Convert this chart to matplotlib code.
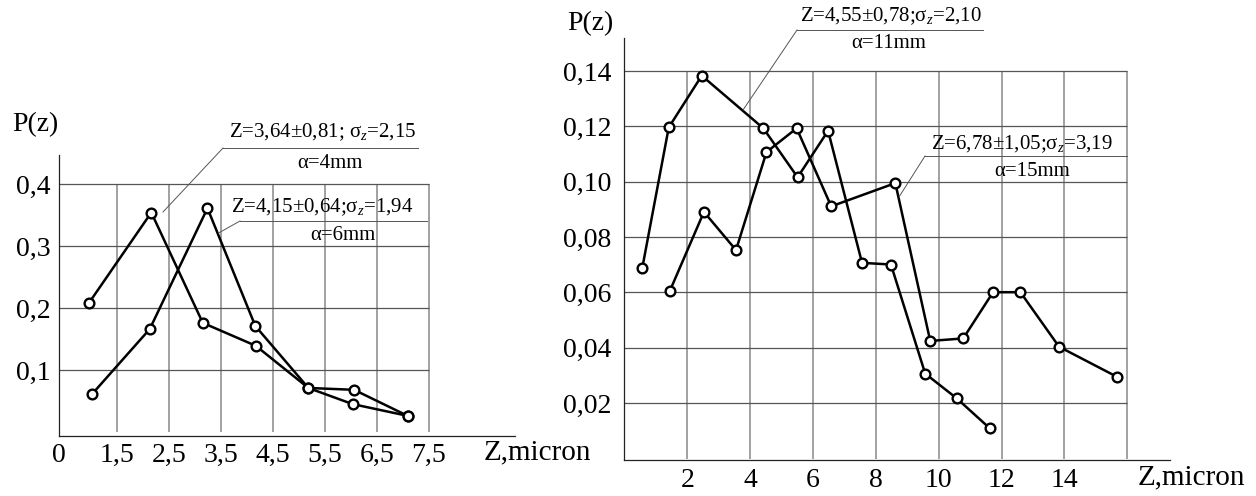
import matplotlib.pyplot as plt
from matplotlib.lines import Line2D

plt.rcParams['font.family'] = ['Liberation Serif', 'DejaVu Serif']
plt.rcParams['mathtext.fontset'] = 'custom'
plt.rcParams['mathtext.rm'] = 'Liberation Serif'
plt.rcParams['mathtext.it'] = 'Liberation Serif:italic'

# left chart: a = 4 mm and a = 6 mm
z_4mm = [0.96, 2.16, 3.15, 4.17, 5.18, 6.03, 7.09]
p_4mm = [0.208, 0.354, 0.176, 0.139, 0.071, 0.045, 0.026]
z_6mm = [1.02, 2.13, 3.24, 4.16, 5.18, 6.06, 7.09]
p_6mm = [0.061, 0.166, 0.361, 0.171, 0.071, 0.068, 0.026]
left_xticks = [1.5, 2.5, 3.5, 4.5, 5.5, 6.5, 7.5]
left_xlabels = ['1,5', '2,5', '3,5', '4,5', '5,5', '6,5', '7,5']
left_yticks = [0.1, 0.2, 0.3, 0.4]
left_ylabels = ['0,1', '0,2', '0,3', '0,4']

# right chart: a = 11 mm and a = 15 mm
z_11mm = [0.57, 1.41, 2.46, 4.42, 5.51, 6.48, 7.56, 8.48, 9.57, 10.57, 11.62]
p_11mm = [0.069, 0.1196, 0.1383, 0.1193, 0.1016, 0.1184, 0.0707, 0.0701,
          0.0307, 0.0218, 0.011]
z_15mm = [1.45, 2.53, 3.55, 4.52, 5.48, 6.58, 8.62, 9.73, 10.78, 11.73,
          12.6, 13.83, 15.68]
p_15mm = [0.0607, 0.0891, 0.0753, 0.1107, 0.1193, 0.0911, 0.0995, 0.0425,
          0.0434, 0.0601, 0.0601, 0.0404, 0.0295]
right_xgrid = [2, 4, 6, 8, 10, 12, 14, 16]
right_xlabels = ['2', '4', '6', '8', '10', '12', '14', '']
right_yticks = [0.02, 0.04, 0.06, 0.08, 0.10, 0.12, 0.14]
right_ylabels = ['0,02', '0,04', '0,06', '0,08', '0,10', '0,12', '0,14']

W, H = 1256, 496
fig = plt.figure(figsize=(W / 100, H / 100), dpi=100)
FS = 20


def fxy(x, y):
    return x / W, 1 - y / H


def style_axes(ax):
    for s in ['top', 'right']:
        ax.spines[s].set_visible(False)
    for s in ['left', 'bottom']:
        ax.spines[s].set_linewidth(0.9)
        ax.spines[s].set_color('#222222')
    ax.tick_params(length=0, labelsize=FS)


def draw_series(ax, x, y):
    ax.plot(x, y, color='black', lw=1.8, marker='o', ms=7,
            mfc='white', mec='black', mew=1.7, zorder=3)


def callout(p0, p1, p2, line1, line2, c1, c2):
    grey = '#555555'
    fig.add_artist(Line2D(*zip(fxy(*p0), fxy(*p1)), color=grey, lw=0.7))
    fig.add_artist(Line2D(*zip(fxy(*p1), fxy(*p2)), color=grey, lw=0.7))
    fig.text(*fxy(*c1), line1, ha='center', va='center', fontsize=15)
    fig.text(*fxy(*c2), line2, ha='center', va='center', fontsize=15)


# ---- left chart ----
ax1 = fig.add_axes([59 / W, 1 - 436 / H, 456 / W, 281 / H])
ax1.set_xlim(0.385, 9.154)
ax1.set_ylim(-0.0065, 0.4468)
ax1.vlines(left_xticks, 0, left_yticks[-1], color='#888888', lw=1.1, zorder=1)
ax1.hlines(left_yticks, 0.385, left_xticks[-1], color='#555555', lw=0.9, zorder=1)
draw_series(ax1, z_4mm, p_4mm)
draw_series(ax1, z_6mm, p_6mm)
ax1.set_xticks([0.385] + left_xticks)
ax1.set_xticklabels(['0'] + left_xlabels)
ax1.set_yticks(left_yticks)
ax1.set_yticklabels(left_ylabels)
style_axes(ax1)
ax1.tick_params(axis='x', pad=5)
ax1.tick_params(axis='y', pad=6)
fig.text(*fxy(35, 125), 'P(z)', ha='center', va='center', fontsize=FS)
fig.text(*fxy(537, 452), 'Z,micron', ha='center', va='center', fontsize=FS + 1)

callout((163, 212), (223, 148), (418, 148),
        'Z=3,64±0,81; σ$_z$=2,15', 'α=4mm', (323, 132), (330, 163))
callout((218.6, 233), (240, 221), (427, 221),
        'Z=4,15±0,64;σ$_z$=1,94', 'α=6mm', (322, 207), (343, 235))

# ---- right chart ----
ax2 = fig.add_axes([624 / W, 1 - 460 / H, 546 / W, 422 / H])
ax2.set_xlim(-0.014, 17.36)
ax2.set_ylim(-0.0005, 0.1519)
ax2.vlines(right_xgrid, 0, right_yticks[-1], color='#888888', lw=1.1, zorder=1)
ax2.hlines(right_yticks, -0.014, right_xgrid[-1], color='#555555', lw=0.9, zorder=1)
draw_series(ax2, z_11mm, p_11mm)
draw_series(ax2, z_15mm, p_15mm)
ax2.set_xticks(right_xgrid)
ax2.set_xticklabels(right_xlabels)
ax2.set_yticks(right_yticks)
ax2.set_yticklabels(right_ylabels)
style_axes(ax2)
ax2.tick_params(axis='x', pad=6)
ax2.tick_params(axis='y', pad=9)
fig.text(*fxy(590, 24), 'P(z)', ha='center', va='center', fontsize=FS)
fig.text(*fxy(1191, 477), 'Z,micron', ha='center', va='center', fontsize=FS + 1)

callout((743, 110), (797, 30), (983, 30),
        'Z=4,55±0,78;σ$_z$=2,10', 'α=11mm', (891, 16), (889, 43))
callout((899, 197), (925, 156), (1127, 156),
        'Z=6,78±1,05;σ$_z$=3,19', 'α=15mm', (1022, 144), (1032, 171))

fig.savefig('out.png', dpi=100, facecolor='white')
